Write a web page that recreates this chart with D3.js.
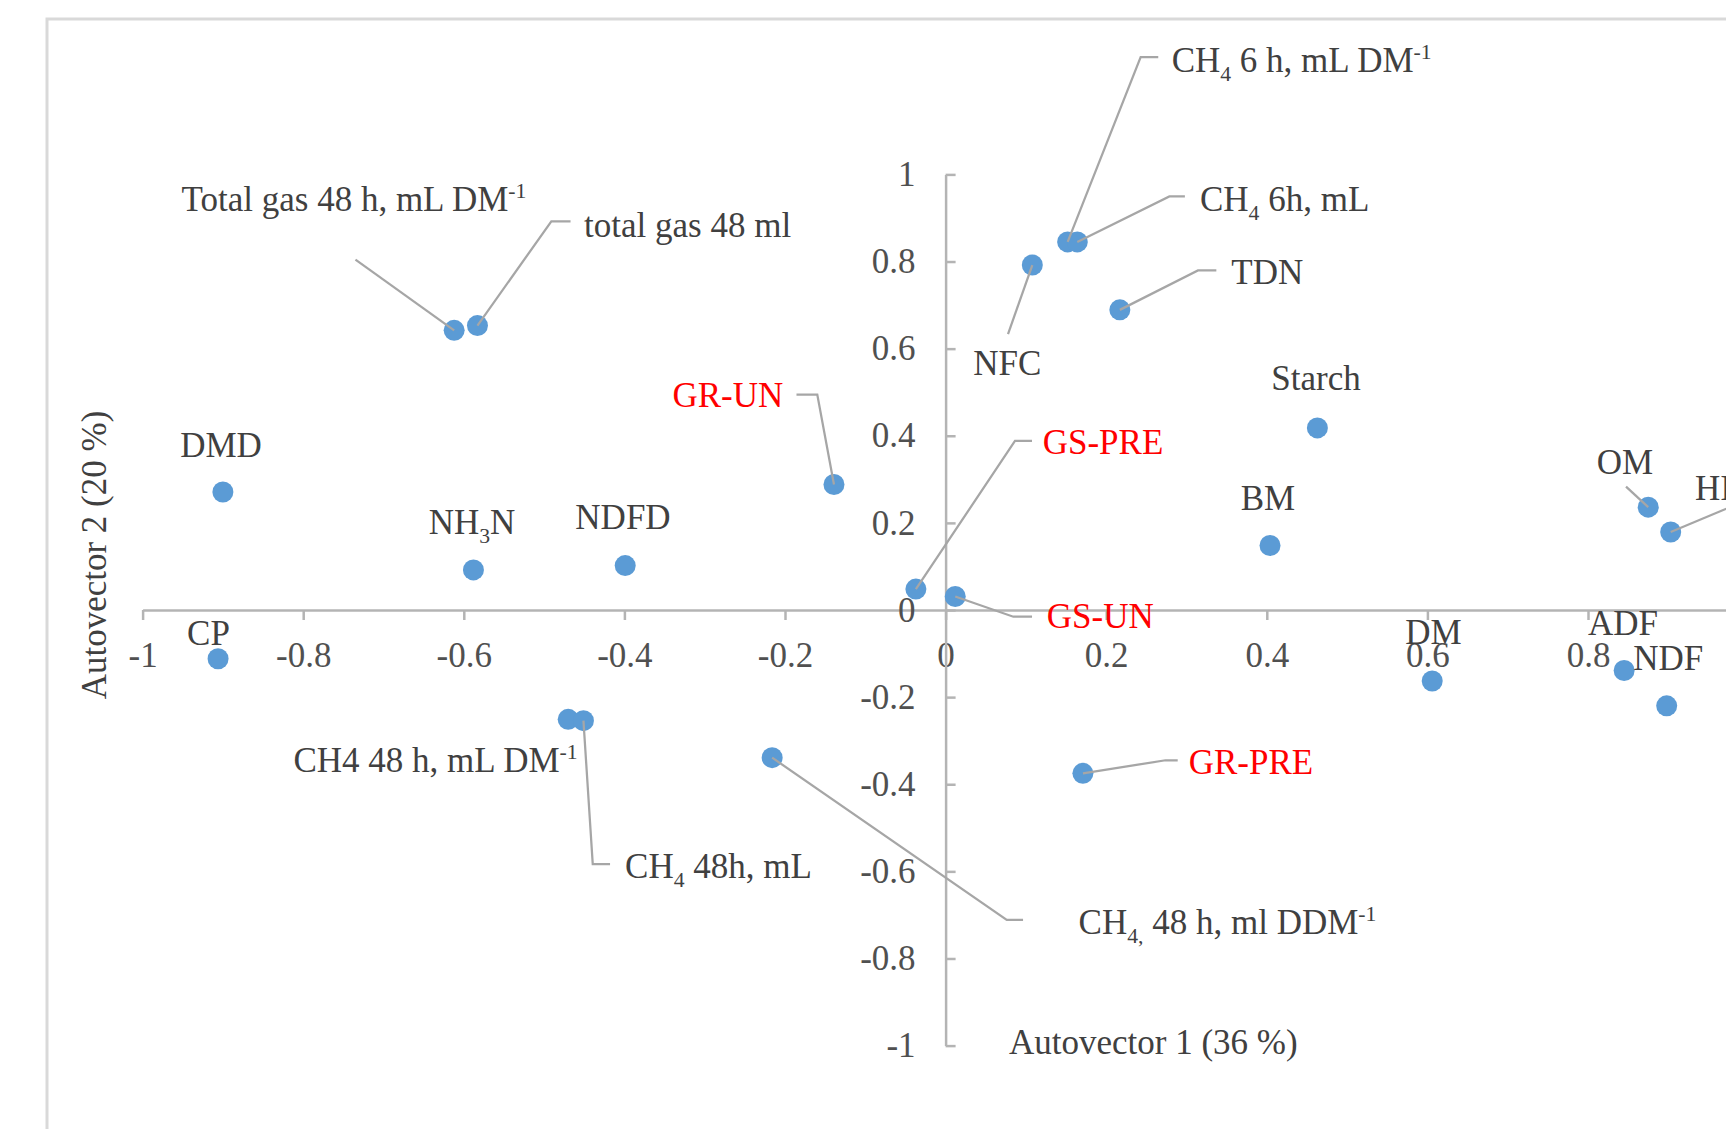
<!DOCTYPE html>
<html>
<head>
<meta charset="utf-8">
<script src="https://cdn.jsdelivr.net/npm/d3@7"></script>
<style>
  html, body { margin: 0; padding: 0; background: #ffffff; overflow: hidden; }
  svg { display: block; }
</style>
</head>
<body>
<svg id="chart" width="1726" height="1129"></svg>
<script>
// ---------------- DATA ----------------
const names = [
  "Total gas 48 h, mL DM^{-1}", "total gas 48 ml", "DMD", "NH_{3}N", "NDFD", "CP",
  "CH4 48 h, mL DM^{-1}", "CH_{4} 48h, mL", "CH_{4,} 48 h, ml DDM^{-1}",
  "GR-UN", "GS-PRE", "GS-UN", "GR-PRE",
  "DM", "ADF", "NDF", "NFC",
  "CH_{4} 6 h, mL DM^{-1}", "CH_{4} 6h, mL", "TDN", "Starch", "BM", "OM", "HI"
];
const autovector1 = [
  -0.612, -0.583, -0.900, -0.588, -0.399, -0.906,
  -0.470, -0.451, -0.216,
  -0.139, -0.037, 0.012, 0.171,
  0.606, 0.845, 0.898, 0.108,
  0.152, 0.164, 0.217, 0.463, 0.404, 0.875, 0.903
];
const autovector2 = [
  0.642, 0.653, 0.271, 0.092, 0.102, -0.112,
  -0.251, -0.254, -0.339,
  0.288, 0.048, 0.031, -0.375,
  -0.163, -0.139, -0.220, 0.792,
  0.845, 0.845, 0.689, 0.418, 0.148, 0.236, 0.179
];
const treatments = ["GR-UN", "GS-PRE", "GS-UN", "GR-PRE"];
const xTicks = [-1, -0.8, -0.6, -0.4, -0.2, 0, 0.2, 0.4, 0.6, 0.8, 1];
const yTicks = [-1, -0.8, -0.6, -0.4, -0.2, 0, 0.2, 0.4, 0.6, 0.8, 1];
const xTitle = "Autovector 1 (36 %)";
const yTitle = "Autovector 2 (20 %)";

// ---------------- LABEL LAYOUT (pixel offsets from each point) ----------------
// [dx, dy, anchor]
const labelOffsets = [
  [-272.6, -119.3, "start"], [106.6, -88.6, "start"], [-1.9, -35, "middle"], [-1.4, -35.9, "middle"],
  [-2.2, -37, "middle"], [-9.6, -13.8, "middle"],
  [-274.7, 52.7, "start"], [41.6, 157.4, "start"], [306.4, 176, "start"],
  [-50.7, -77.5, "end"], [126.8, -135.1, "start"], [91.5, 31.8, "start"], [105.8, 0.6, "start"],
  [1.3, -37, "middle"], [-1.1, -35.5, "middle"], [1.6, -35.8, "middle"], [-59, 110, "start"],
  [104, -170.2, "start"], [122.7, -31.4, "start"], [111.4, -25.9, "start"], [-1.4, -37.9, "middle"],
  [-2, -35.5, "middle"], [-51.5, -33.2, "start"], [24.3, -32, "start"]
];
// leader line vertices (offsets from point), null = no leader
const leaders = [
  [[-98.7, -70.7]], [[73.9, -104.2], [93.1, -104.2]], null, null, null, null,
  null, [[9.3, 143.4], [26.6, 143.4]], [[234.6, 162.3], [250.9, 162.3]],
  [[-16.7, -89.9], [-37.5, -89.9]], [[99.1, -148.1], [116.1, -148.1]], [[58.1, 20.2], [76.8, 20.2]], [[82.6, -13.1], [94.8, -13.1]],
  null, null, null, [[-24.3, 69]],
  [[73, -184.9], [90.6, -184.9]], [[92.1, -45.5], [107.6, -45.5]], [[78.1, -39.5], [96.5, -39.5]], null,
  null, [[-22.2, -20.5]], [[69.3, -29]]
];

// ---------------- CHART ----------------
const svg = d3.select("#chart");
const FONT = "'Liberation Serif', 'Times New Roman', serif";
const FS = 35;
const textCol = "#404040";
const axisCol = "#b4b4b4";
const leaderCol = "#a6a6a6";

// frame
svg.append("rect").attr("x", 0).attr("y", 0).attr("width", 1726).attr("height", 1129).attr("fill", "#fff");
svg.append("path").attr("d", "M47,1129 L47,19 L1726,19")
  .attr("fill", "none").attr("stroke", "#d9d9d9").attr("stroke-width", 3);

const x = d3.scaleLinear().domain([-1, 1]).range([142.6, 1748.6]);
const y = d3.scaleLinear().domain([-1, 1]).range([1045.6, 174.4]);
const fmt = d => String(Math.round(d * 10) / 10);

// x axis (at y = 0)
const gx = svg.append("g").attr("transform", `translate(0,${y(0)})`)
  .call(d3.axisBottom(x).tickValues(xTicks).tickFormat(fmt).tickSize(10).tickSizeOuter(0).tickPadding(22));
// y axis (at x = 0), ticks pointing right, labels left
const gy = svg.append("g").attr("transform", `translate(${x(0)},0)`)
  .call(d3.axisLeft(y).tickValues(yTicks).tickFormat(fmt).tickSize(-10).tickSizeOuter(0).tickPadding(30));

[gx, gy].forEach(g => {
  g.select(".domain").attr("stroke", axisCol).attr("stroke-width", 2.5);
  g.selectAll(".tick line").attr("stroke", axisCol).attr("stroke-width", 2.5);
  g.selectAll(".tick text").attr("fill", "#505050").style("font-family", FONT).style("font-size", FS + "px");
});

// axis titles
svg.append("text").attr("x", 1009).attr("y", 1054)
  .style("font-family", FONT).style("font-size", FS + "px").attr("fill", textCol).text(xTitle);
svg.append("text").attr("transform", "translate(106,555) rotate(-90)").attr("text-anchor", "middle")
  .style("font-family", FONT).style("font-size", FS + "px").attr("fill", textCol).text(yTitle);

// points
const pts = names.map((n, i) => ({ name: n, px: x(autovector1[i]), py: y(autovector2[i]), i }));

svg.append("g").selectAll("circle").data(pts).join("circle")
  .attr("cx", d => d.px).attr("cy", d => d.py).attr("r", 10.5).attr("fill", "#5b9bd5");

// leader lines
const line = d3.line();
svg.append("g").selectAll("path").data(pts.filter(d => leaders[d.i])).join("path")
  .attr("d", d => line([[d.px, d.py]].concat(leaders[d.i].map(o => [d.px + o[0], d.py + o[1]]))))
  .attr("fill", "none").attr("stroke", leaderCol).attr("stroke-width", 2.25);

// labels with sub/superscripts
function addRich(sel, str) {
  const parts = str.split(/(_\{[^}]*\}|\^\{[^}]*\})/).filter(s => s.length);
  let shift = 0;
  parts.forEach(p => {
    let txt = p, dy = 0, size = null;
    if (p.startsWith("_{")) { txt = p.slice(2, -1); dy = 9; size = FS * 0.62; }
    else if (p.startsWith("^{")) { txt = p.slice(2, -1); dy = -13; size = FS * 0.62; }
    const t = sel.append("tspan").attr("dy", dy - shift).text(txt);
    if (size) t.style("font-size", size + "px");
    shift = dy;
  });
}

const lab = svg.append("g");
pts.forEach(d => {
  const o = labelOffsets[d.i];
  const t = lab.append("text")
    .attr("x", d.px + o[0]).attr("y", d.py + o[1])
    .attr("text-anchor", o[2])
    .style("font-family", FONT).style("font-size", FS + "px")
    .attr("fill", treatments.includes(d.name) ? "#ff0000" : textCol);
  addRich(t, d.name);
});
</script>
</body>
</html>
